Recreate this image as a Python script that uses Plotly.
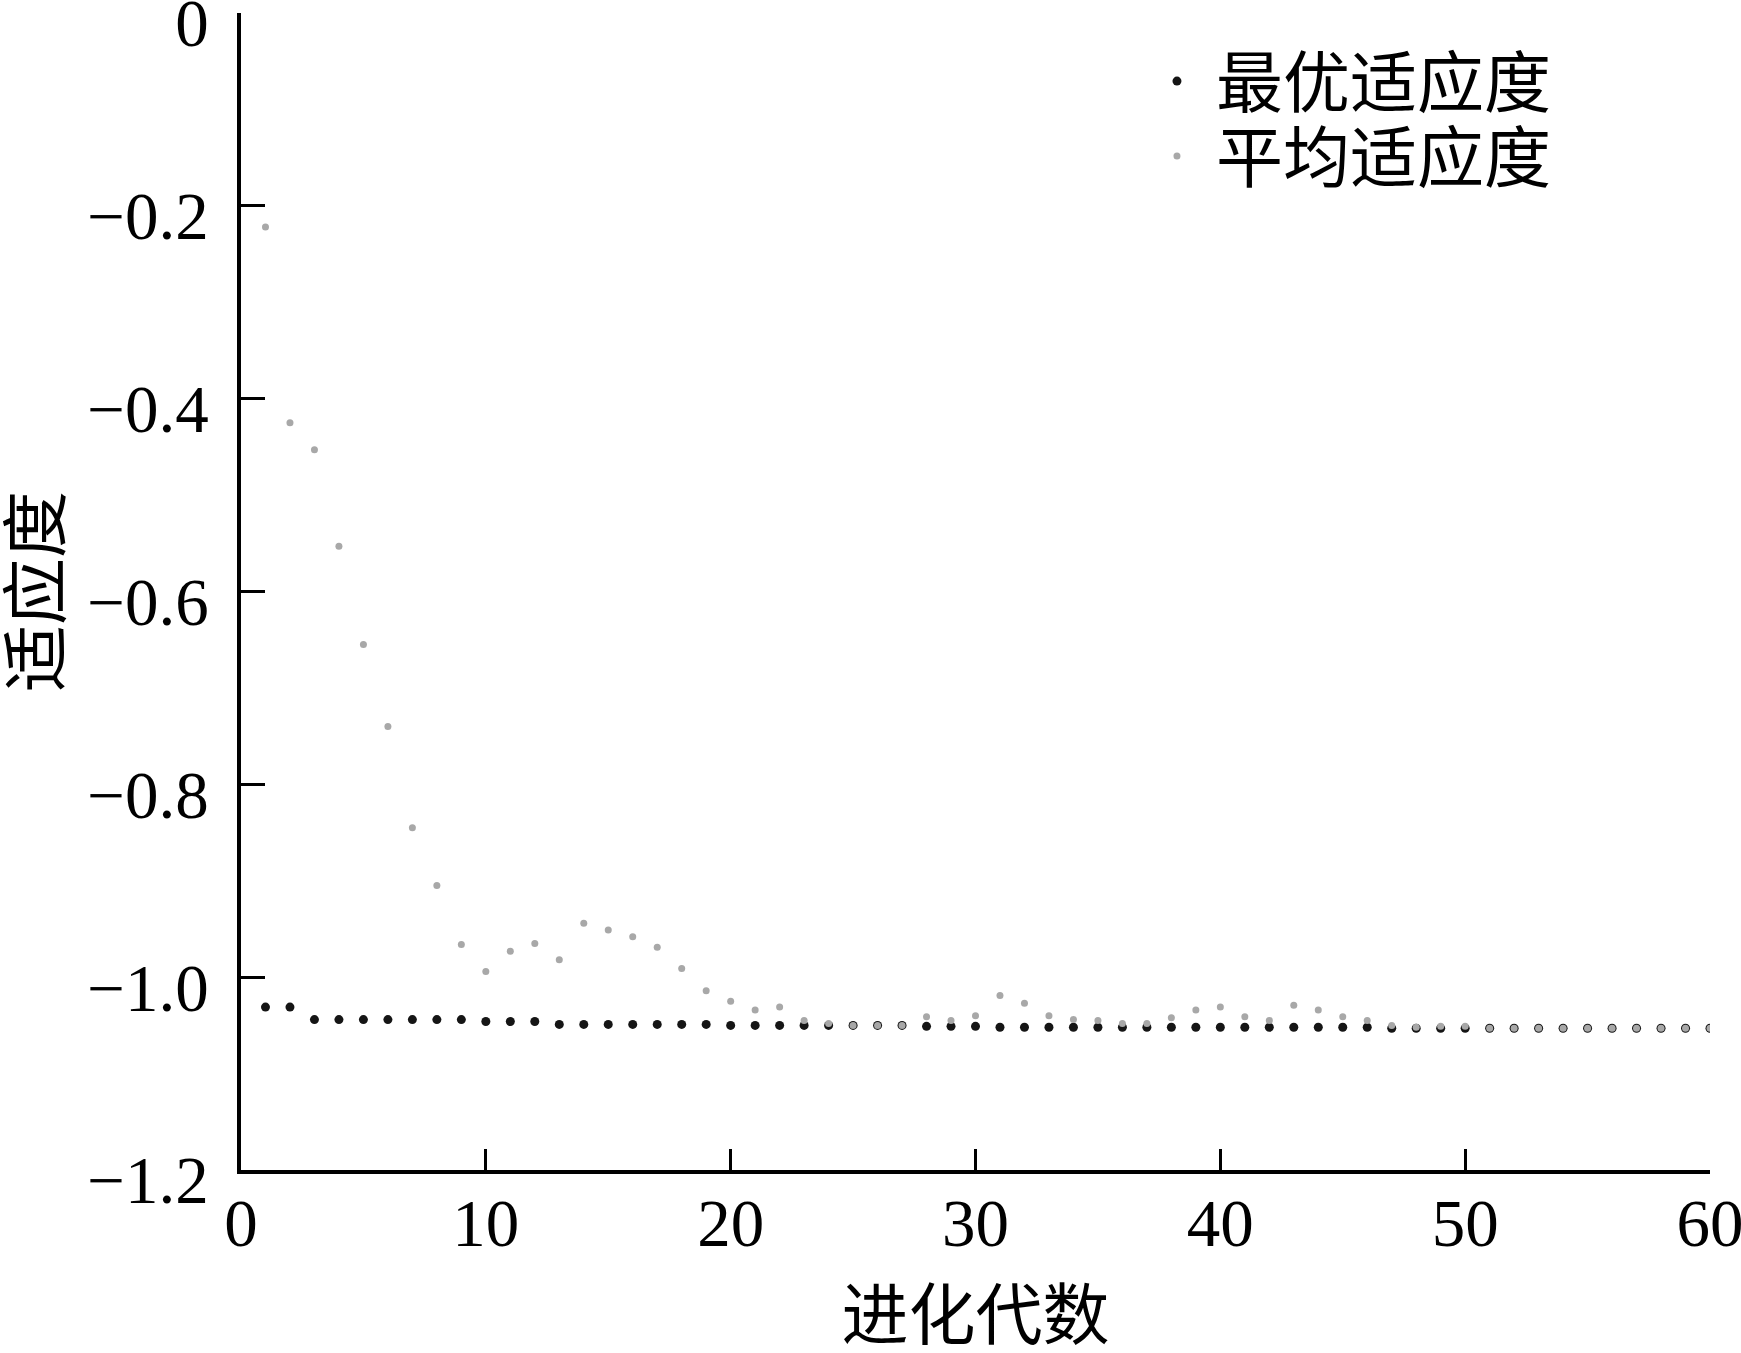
import plotly.graph_objects as go

generations = list(range(1, 61))

best_fitness = [
    -1.031, -1.031, -1.044, -1.044, -1.044, -1.044, -1.044, -1.044, -1.044, -1.046,
    -1.046, -1.046, -1.049, -1.049, -1.049, -1.049, -1.049, -1.049, -1.049, -1.050,
    -1.050, -1.050, -1.050, -1.050, -1.050, -1.050, -1.050, -1.051, -1.051, -1.051,
    -1.052, -1.052, -1.052, -1.052, -1.052, -1.052, -1.052, -1.052, -1.052, -1.052,
    -1.052, -1.052, -1.052, -1.052, -1.052, -1.052, -1.053, -1.053, -1.053, -1.053,
    -1.053, -1.053, -1.053, -1.053, -1.053, -1.053, -1.053, -1.053, -1.053, -1.053,
]

avg_fitness = [
    -0.222, -0.425, -0.453, -0.553, -0.655, -0.740, -0.845, -0.905, -0.966, -0.994,
    -0.973, -0.965, -0.982, -0.944, -0.951, -0.958, -0.969, -0.991, -1.014, -1.025,
    -1.034, -1.031, -1.045, -1.048, -1.050, -1.050, -1.050, -1.041, -1.045, -1.040,
    -1.019, -1.027, -1.040, -1.044, -1.045, -1.048, -1.048, -1.042, -1.034, -1.031,
    -1.041, -1.045, -1.029, -1.034, -1.041, -1.045, -1.050, -1.052, -1.051, -1.051,
    -1.053, -1.053, -1.053, -1.053, -1.053, -1.053, -1.053, -1.053, -1.053, -1.053,
]

x_ticks = [0, 10, 20, 30, 40, 50, 60]
y_tick_vals = [0, -0.2, -0.4, -0.6, -0.8, -1.0, -1.2]
y_tick_text = ["0", "\u22120.2", "\u22120.4", "\u22120.6", "\u22120.8", "\u22121.0", "\u22121.2"]

FONT = "Liberation Serif, 'Noto Sans CJK SC', serif"
FS = 67

fig = go.Figure()
fig.add_trace(go.Scatter(
    x=generations, y=best_fitness, mode="markers", name="最优适应度",
    marker=dict(symbol="circle", size=9, color="#151515"),
    legend="legend",
))
fig.add_trace(go.Scatter(
    x=generations, y=avg_fitness, mode="markers", name="平均适应度",
    marker=dict(symbol="circle", size=7, color="#a8a8a8"),
    legend="legend2",
))

legend_common = dict(
    xanchor="left", yanchor="top", bgcolor="rgba(0,0,0,0)",
    font=dict(size=FS), itemwidth=68, borderwidth=0,
)

fig.update_layout(
    width=1741, height=1353,
    margin=dict(l=241, r=31, t=13, b=183),
    paper_bgcolor="white", plot_bgcolor="white",
    font=dict(family=FONT, size=FS, color="black"),
    showlegend=True,
    legend=dict(x=0.6106, y=0.9844, **legend_common),
    legend2=dict(x=0.6106, y=0.9196, **legend_common),
    xaxis=dict(
        range=[0, 60], tickvals=x_ticks, ticks="inside", ticklen=21, tickwidth=3,
        tickcolor="black", showline=True, linecolor="black", linewidth=3.5,
        showgrid=False, zeroline=False, ticklabelstandoff=-8,
        ticklabeloverflow="allow",
        title=dict(text="进化代数", standoff=52, font=dict(size=FS)),
        automargin=False,
    ),
    yaxis=dict(
        range=[-1.2, 0], tickvals=y_tick_vals, ticktext=y_tick_text,
        ticks="inside", ticklen=24, tickwidth=3, tickcolor="black",
        showline=True, linecolor="black", linewidth=3.5,
        showgrid=False, zeroline=False, ticklabelstandoff=15,
        ticklabelshift=10,
        ticklabeloverflow="allow",
        title=dict(text="适应度", standoff=14, font=dict(size=FS)),
        automargin=False,
    ),
)

fig.write_html(
    "out.html",
    config={"displayModeBar": False},
    post_script="document.body.style.margin='0';",
)
